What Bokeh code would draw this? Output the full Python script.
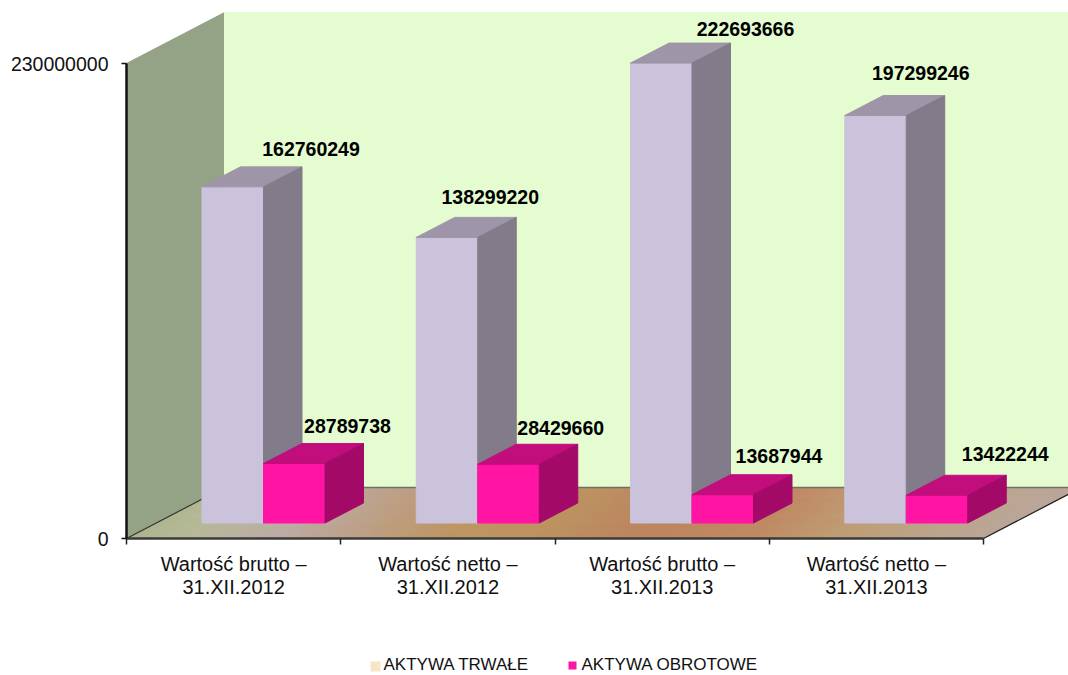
from bokeh.plotting import figure
from bokeh.models import Range1d, FixedTicker
from bokeh.core.properties import value
from bokeh.embed import file_html
from bokeh.resources import INLINE

categories = ["Wartość brutto –\n31.XII.2012", "Wartość netto –\n31.XII.2012",
              "Wartość brutto –\n31.XII.2013", "Wartość netto –\n31.XII.2013"]
aktywa_trwale = [162760249, 138299220, 222693666, 197299246]
aktywa_obrotowe = [28789738, 28429660, 13687944, 13422244]
axis_max = 230000000

# label offsets from the bar's front top-left corner, in pixels
off_trwale = [(109, 38), (74, 40), (115, 34), (76, 43)]
off_obrotowe = [(84, 38), (83, 36), (87, 39), (99, 41)]

W, H = 1068, 675
X0, X4 = 126.0, 983.0
Y0, YM = 538.0, 63.0
PX_CAT = (X4 - X0) / 4
PX_VAL = (Y0 - YM) / axis_max

def X(px):
    return (px - X0) / PX_CAT

def Y(py):
    return (Y0 - py) / PX_VAL

p = figure(width=W, height=H, output_backend="svg", toolbar_location=None,
           x_range=Range1d(X(0), X(W)), y_range=Range1d(Y(H), Y(0)),
           min_border=0, outline_line_color=None, background_fill_color="white",
           margin=(0, 0, 0, 0))
p.grid.visible = False

SANS = "Liberation Sans"

# walls
DX, DY = 98, 51
p.patch([X(X0), X(X0 + DX), X(X0 + DX), X(X0)], [Y(Y0), Y(Y0 - DY), Y(12), Y(YM)],
        fill_color="#94a285", line_color="#94a285")
p.patch([X(X0 + DX), X(W), X(W), X(X0 + DX)], [Y(12), Y(12), Y(Y0 - DY), Y(Y0 - DY)],
        fill_color="#e4fccf", line_color="#e4fccf")

# floor gradient
stops = [(120, (168, 176, 140)), (210, (182, 186, 150)), (300, (188, 172, 166)),
         (380, (189, 160, 135)), (470, (190, 150, 100)), (560, (189, 147, 96)),
         (660, (188, 133, 96)), (780, (192, 138, 101)), (860, (191, 157, 115)),
         (950, (188, 165, 140)), (1080, (187, 166, 160))]

def grad(u):
    if u <= stops[0][0]:
        c = stops[0][1]
    elif u >= stops[-1][0]:
        c = stops[-1][1]
    else:
        for (a, ca), (b, cb) in zip(stops, stops[1:]):
            if a <= u <= b:
                t = (u - a) / (b - a)
                c = tuple(int(ca[i] + (cb[i] - ca[i]) * t) for i in range(3))
                break
    return "#%02x%02x%02x" % c

NU, NV = 72, 5
xs, ys, cols = [], [], []
for i in range(NU):
    for j in range(NV):
        s0, s1 = (X4 - X0) * i / NU, (X4 - X0) * (i + 1) / NU
        t0, t1 = j / NV, (j + 1) / NV
        pts = [(X0 + s0 + DX * t0, Y0 - DY * t0), (X0 + s1 + DX * t0, Y0 - DY * t0),
               (X0 + s1 + DX * t1, Y0 - DY * t1), (X0 + s0 + DX * t1, Y0 - DY * t1)]
        xs.append([X(a) for a, _ in pts])
        ys.append([Y(b) for _, b in pts])
        cols.append(grad(X0 + (s0 + s1) / 2 + DX * (t0 + t1) / 2 + (Y0 - DY * (t0 + t1) / 2 - 512)))
p.patches(xs, ys, fill_color=cols, line_color=cols, line_width=1)

# floor edges
p.line([X(X0 + DX), X(W)], [Y(Y0 - DY), Y(Y0 - DY)], line_color="#6f6f63", line_width=1.5)
p.line([X(X0), X(X0 + DX)], [Y(Y0), Y(Y0 - DY)], line_color="#33352c", line_width=1.2)
p.line([X(X4), X(X4 + DX)], [Y(Y0), Y(Y0 - DY)], line_color="#222222", line_width=1.2)

# 3D bars
BASE = Y(522.5)
BAR_OFF = 75.5 / PX_CAT
BAR_W = 61.5 / PX_CAT
DEPTH_X = 38.5 / PX_CAT
DEPTH_Y = 20 / PX_VAL

def bar(x, v, front, top, side):
    x1 = x + BAR_W
    yt = BASE + v
    p.patch([x, x1, x1, x], [BASE, BASE, yt, yt], fill_color=front, line_color=front, line_width=1)
    p.patch([x, x1, x1 + DEPTH_X, x + DEPTH_X], [yt, yt, yt + DEPTH_Y, yt + DEPTH_Y],
            fill_color=top, line_color=top, line_width=1)
    p.patch([x1, x1 + DEPTH_X, x1 + DEPTH_X, x1], [BASE, BASE + DEPTH_Y, yt + DEPTH_Y, yt],
            fill_color=side, line_color=side, line_width=1)

for i, (a, b) in enumerate(zip(aktywa_trwale, aktywa_obrotowe)):
    bar(i + BAR_OFF, a, "#cbc2dc", "#9f95a8", "#827b8a")
    bar(i + BAR_OFF + BAR_W, b, "#ff14a4", "#c20d7d", "#a30a68")

# value labels
lx, ly, lt, lox, loy = [], [], [], [], []
for i in range(4):
    for v, off, shift in ((aktywa_trwale[i], off_trwale[i], 0), (aktywa_obrotowe[i], off_obrotowe[i], BAR_W)):
        lx.append(i + BAR_OFF + shift)
        ly.append(BASE + v)
        lt.append(str(v))
        lox.append(off[0])
        loy.append(-off[1])
p.text(lx, ly, text=lt, x_offset=lox, y_offset=loy, text_font=value(SANS), text_font_style="bold",
       text_font_size="19.5px", text_color="black", text_align="center", text_baseline="middle")

# axes
xa = p.xaxis[0]
xa.fixed_location = 0
xa.bounds = (0, 4)
xa.ticker = FixedTicker(ticks=[0.5, 1.5, 2.5, 3.5], minor_ticks=[0, 1, 2, 3, 4])
xa.major_label_overrides = {i + 0.5: c for i, c in enumerate(categories)}
xa.major_tick_line_color = None
xa.major_tick_in = 0
xa.major_tick_out = 14
xa.minor_tick_in = 0
xa.minor_tick_out = 6
xa.minor_tick_line_color = "#222222"
xa.minor_tick_line_width = 1.5
xa.axis_line_color = "#3a3a3a"
xa.axis_line_width = 2.5
xa.major_label_text_font = SANS
xa.major_label_text_font_size = "20px"
xa.major_label_text_line_height = 1.05
xa.major_label_text_color = "#111111"
xa.major_label_standoff = 0

ya = p.yaxis[0]
ya.fixed_location = 0
ya.bounds = (0, axis_max)
ya.ticker = FixedTicker(ticks=[0, axis_max])
ya.major_label_overrides = {0: "0", axis_max: str(axis_max)}
ya.minor_tick_line_color = None
ya.major_tick_in = 0
ya.major_tick_out = 5
ya.major_tick_line_color = "#111111"
ya.major_tick_line_width = 1.5
ya.axis_line_color = "#111111"
ya.axis_line_width = 2.5
ya.major_label_text_font = SANS
ya.major_label_text_font_size = "19.5px"
ya.major_label_text_color = "#111111"
ya.major_label_standoff = 13
ya.major_label_orientation = "horizontal"

# legend
series = ["AKTYWA TRWAŁE", "AKTYWA OBROTOWE"]
p.patch([X(370), X(380), X(380), X(370)], [Y(661), Y(661), Y(671), Y(671)],
        fill_color="#f7e6c4", line_color=None)
p.patch([X(568), X(576), X(576), X(568)], [Y(661), Y(661), Y(669), Y(669)],
        fill_color="#ff14a4", line_color=None)
p.text([X(383), X(581)], [Y(664), Y(664)], text=series, text_font=value(SANS),
       text_font_size="17px", text_color="#111111", text_baseline="middle", text_align="left")

open("out.html", "w").write(file_html(p, INLINE))
